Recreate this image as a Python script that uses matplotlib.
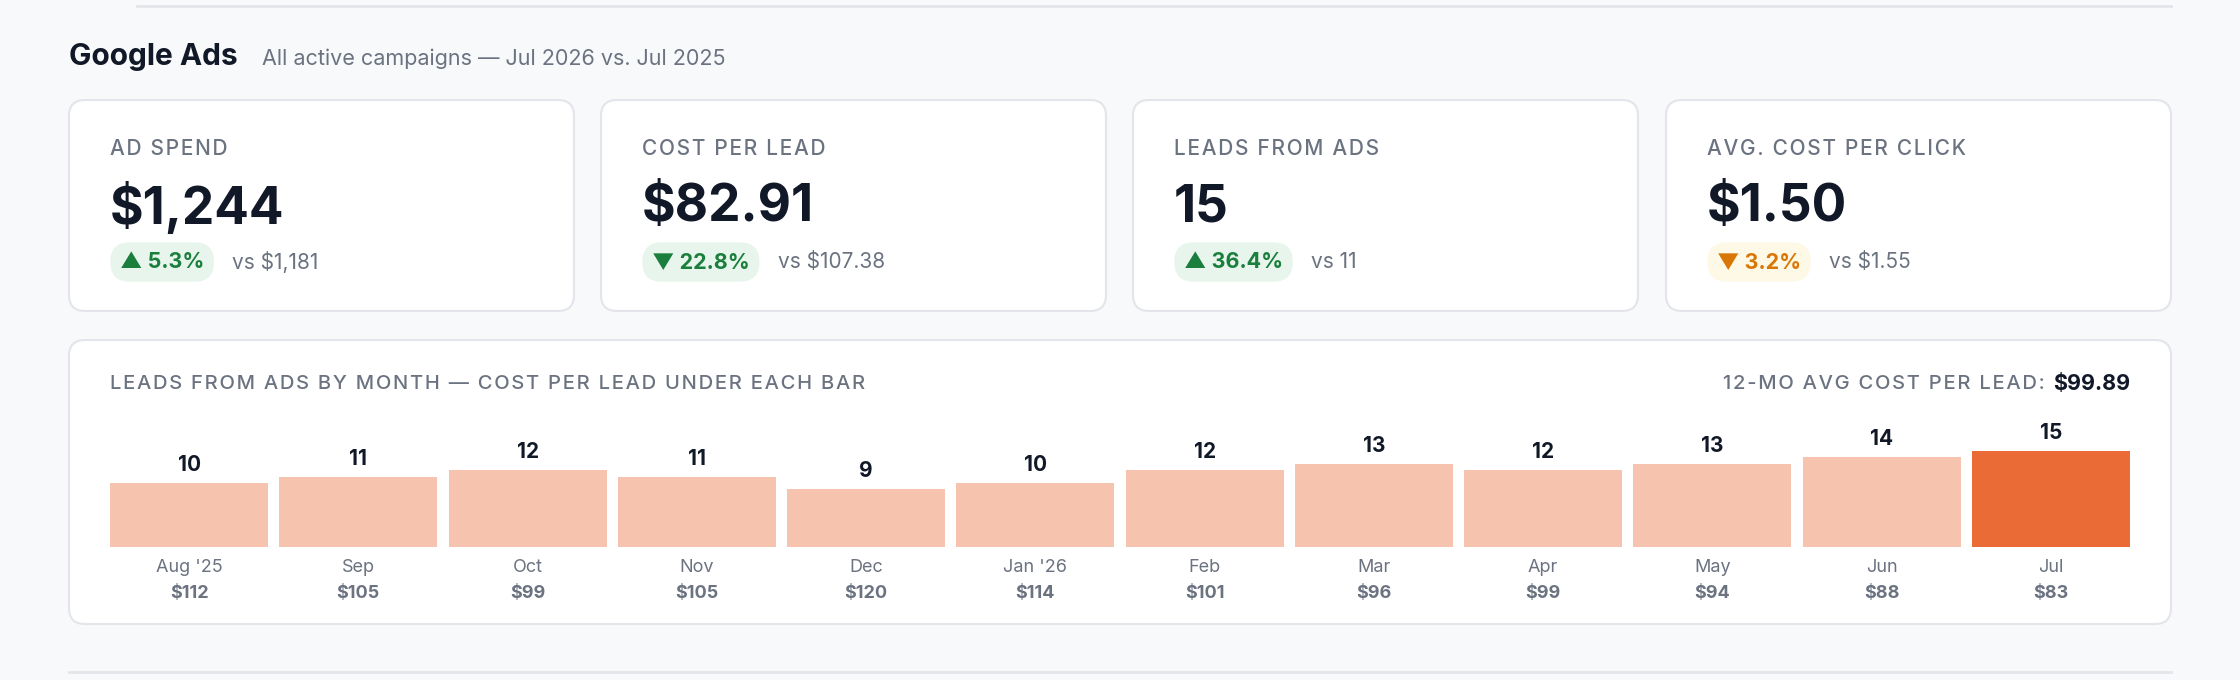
import matplotlib

matplotlib.use("Agg")
import matplotlib.pyplot as plt  # noqa: E402
from matplotlib.patches import FancyBboxPatch  # noqa: E402

plt.rcParams["font.family"] = ["Inter", "DejaVu Sans"]

# ---- data ----
card_labels = ["AD SPEND", "COST PER LEAD", "LEADS FROM ADS", "AVG. COST PER CLICK"]
card_values = ["$1,244", "$82.91", "15", "$1.50"]
card_changes = ["▲ 5.3%", "▼ 22.8%", "▲ 36.4%", "▼ 3.2%"]
card_prev = ["vs $1,181", "vs $107.38", "vs 11", "vs $1.55"]
card_good = [True, True, True, False]

months = ["Aug '25", "Sep", "Oct", "Nov", "Dec", "Jan '26", "Feb", "Mar", "Apr", "May", "Jun", "Jul"]
leads = [10, 11, 12, 11, 9, 10, 12, 13, 12, 13, 14, 15]
cpl = ["$112", "$105", "$99", "$105", "$120", "$114", "$101", "$96", "$99", "$94", "$88", "$83"]
avg_cpl = "$99.89"

DARK = "#111827"
GRAY = "#6B7280"
BORDER = "#E3E5EA"
W, H = 2240, 680


def spaced(s):
    # rough letter spacing for the uppercase labels
    return "\u200a".join(s)


fig = plt.figure(figsize=(W / 100, H / 100), dpi=100, facecolor="#F8F9FB")
bg = fig.add_axes([0, 0, 1, 1])
bg.set_xlim(0, W)
bg.set_ylim(H, 0)
bg.axis("off")

bg.plot([137, 2171], [6, 6], color=BORDER, lw=2)
bg.plot([69, 2171], [672, 672], color=BORDER, lw=2)

bg.text(69, 57, "Google Ads", fontsize=21.5, fontweight="bold", color=DARK, va="center")
bg.text(262, 59, "All active campaigns — Jul 2026 vs. Jul 2025", fontsize=15.5, color=GRAY, va="center")


def card(x0, y0, x1, y1):
    bg.add_patch(FancyBboxPatch((x0, y0), x1 - x0, y1 - y0,
                                boxstyle="round,pad=0,rounding_size=16",
                                fc="white", ec=BORDER, lw=1.5))


card_x = [69, 601, 1133, 1666]
for i, x in enumerate(card_x):
    card(x, 100, x + 505, 311)
    tx = x + 41
    bg.text(tx, 149, spaced(card_labels[i]), fontsize=15, fontweight="medium", color=GRAY, va="center")
    bg.text(tx, 208, card_values[i], fontsize=37, fontweight="bold", color=DARK, va="center")
    fc = "#E8F5EC" if card_good[i] else "#FEF8E6"
    tc = "#1A7F3C" if card_good[i] else "#D97706"
    t = bg.text(tx + 10, 262, card_changes[i], fontsize=15.5, fontweight="bold", color=tc, va="center")
    t.set_bbox(dict(boxstyle="round,pad=0.45,rounding_size=0.9", fc=fc, ec="none"))
    fig.canvas.draw()
    bb = t.get_window_extent()
    bg.text(bb.x1 + 28, 262, card_prev[i], fontsize=15, color=GRAY, va="center")

# chart panel
card(69, 340, 2171, 624)
bg.text(110, 384, spaced("LEADS FROM ADS BY MONTH — COST PER LEAD UNDER EACH BAR"), fontsize=14.5,
        fontweight="medium", color=GRAY, va="center")
v = bg.text(2130, 384, avg_cpl, fontsize=15.5, fontweight="bold", color=DARK, va="center", ha="right")
fig.canvas.draw()
vb = v.get_window_extent()
bg.text(vb.x0 - 8, 384, spaced("12-MO AVG COST PER LEAD:"), fontsize=14.5, fontweight="medium",
        color=GRAY, va="center", ha="right")

# bars
base_y = 547
bw = 0.935
ax = fig.add_axes([110 / W, (H - base_y) / H, 2020 / W, 128 / H])
ax.set_xlim(-bw / 2, len(months) - 1 + bw / 2)
ax.set_ylim(0, 20)
ax.axis("off")
colors = ["#F6C4AE"] * (len(months) - 1) + ["#EB6B37"]
xs = list(range(len(months)))
ax.bar(xs, leads, width=bw, color=colors)
for x, n, m, c in zip(xs, leads, months, cpl):
    ax.annotate(str(n), (x, n), xytext=(0, 8), textcoords="offset pixels", ha="center", va="bottom",
                fontsize=15, fontweight="bold", color=DARK)
    ax.annotate(m, (x, 0), xytext=(0, -20), textcoords="offset pixels", ha="center", va="center",
                fontsize=13, color=GRAY, annotation_clip=False)
    ax.annotate(c, (x, 0), xytext=(0, -47), textcoords="offset pixels", ha="center", va="center",
                fontsize=13, fontweight="bold", color=GRAY, annotation_clip=False)

fig.savefig("out.png", dpi=100, facecolor=fig.get_facecolor())
